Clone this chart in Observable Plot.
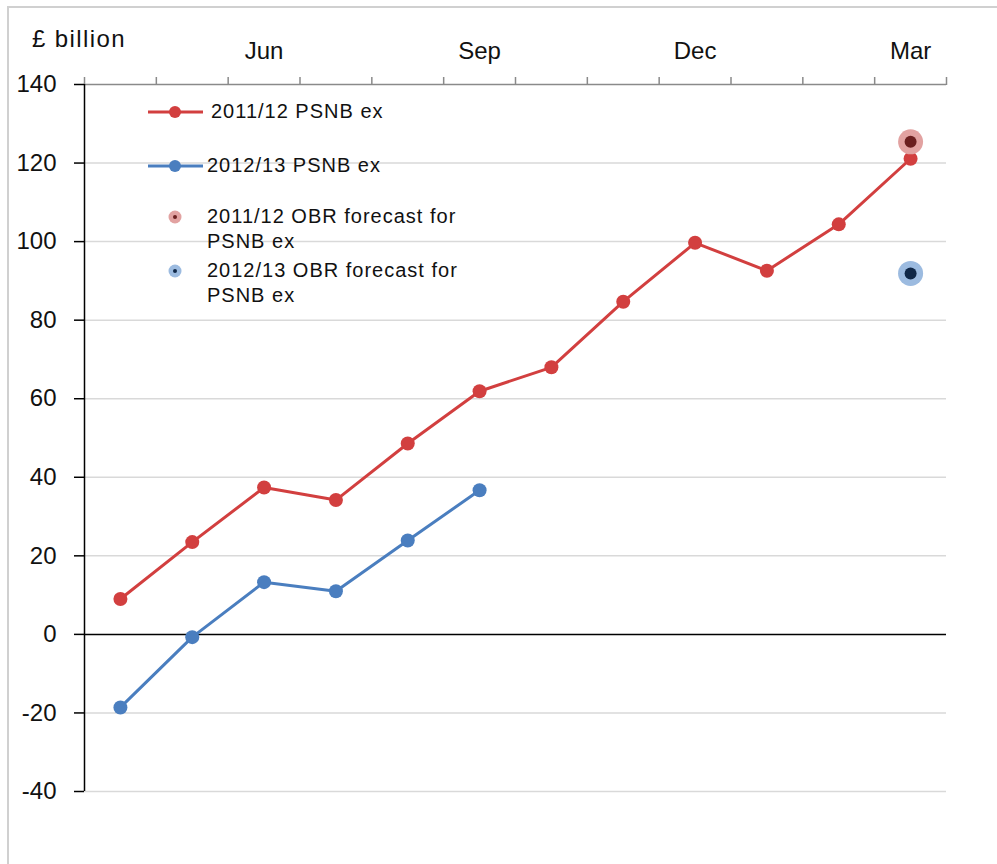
<!DOCTYPE html>
<html>
<head>
<meta charset="utf-8">
<script src="https://cdn.jsdelivr.net/npm/d3@7"></script>
<script src="https://cdn.jsdelivr.net/npm/@observablehq/plot@0.6"></script>
<style>
  html, body { margin: 0; padding: 0; background: #fff; }
  body { width: 997px; height: 864px; overflow: hidden; font-family: "Liberation Sans", Arial, sans-serif; }
  #wrap { position: relative; width: 997px; height: 864px; }
  #frameLeft { position: absolute; left: 7px; top: 7px; width: 2px; height: 857px; background: #d0d0d0; }
  #frameTop { position: absolute; left: 7px; top: 6px; width: 990px; height: 2px; background: #d0d0d0; }
  #unit { position: absolute; left: 32px; top: 25px; font-size: 24px; letter-spacing: 1.4px; color: #111; }
  #legend { position: absolute; left: 146px; top: 99px; font-size: 20px; letter-spacing: 1px; color: #111; }
  .row { position: absolute; left: 0; white-space: nowrap; line-height: 25px; }
  .row svg { position: absolute; left: 0; }
  .row span { position: absolute; white-space: nowrap; }
  svg.plot { position: absolute; left: 0; top: 0; }
</style>
</head>
<body>
<div id="wrap">
  <div id="frameLeft"></div>
  <div id="frameTop"></div>
  <div id="unit">£ billion</div>
  <div id="legend"></div>
</div>
<script>
// ---- Data ----
const months = ["Apr","May","Jun","Jul","Aug","Sep","Oct","Nov","Dec","Jan","Feb","Mar"];
const labelledMonths = ["Jun","Sep","Dec","Mar"];
const psnb1112 = [9, 23.5, 37.4, 34.2, 48.6, 61.9, 68, 84.7, 99.7, 92.6, 104.4, 121.1];
const psnb1213 = [-18.6, -0.7, 13.3, 11, 23.9, 36.7];
const forecastMonth = "Mar";
const forecast1112 = 125.4;
const forecast1213 = 91.9;
const yTicks = [-40, -20, 0, 20, 40, 60, 80, 100, 120, 140];
const seriesNames = ["2011/12 PSNB ex", "2012/13 PSNB ex"];
const forecastNames = ["2011/12 OBR forecast for\nPSNB ex", "2012/13 OBR forecast for\nPSNB ex"];

const red = "#d23f3f", blue = "#4a7ebf";
const redHalo = "#e2a2a1", redCore = "#6b1f1f";
const blueHalo = "#9cbbe0", blueCore = "#0f2747";

// month index -> band centre on a linear [0,12] scale
const mx = m => months.indexOf(m) + 0.5;
const s1112 = psnb1112.map((v, i) => ({x: i + 0.5, y: v}));
const s1213 = psnb1213.map((v, i) => ({x: i + 0.5, y: v}));
const fc = [
  {x: mx(forecastMonth), y: forecast1112, halo: redHalo, core: redCore},
  {x: mx(forecastMonth), y: forecast1213, halo: blueHalo, core: blueCore}
];

const font = "Liberation Sans, Arial, sans-serif";

const chart = Plot.plot({
  width: 997,
  height: 864,
  marginLeft: 84,
  marginRight: 51,
  marginTop: 84,
  marginBottom: 73,
  style: {fontFamily: font, background: "transparent", overflow: "visible"},
  x: {type: "linear", domain: [0, 12], axis: null},
  y: {domain: [-40, 140], axis: null},
  marks: [
    Plot.gridY(yTicks.filter(t => t !== 0 && t !== 140), {stroke: "#d9d9d9", strokeOpacity: 1, strokeWidth: 1.5}),
    Plot.ruleY([0], {stroke: "#000", strokeWidth: 1.5}),
    Plot.ruleY([140], {stroke: "#8a8a8a", strokeWidth: 1.5}),
    Plot.axisX({anchor: "top", label: null, ticks: d3.range(0, 13), tickSize: 8, tickFormat: () => "", stroke: "#8a8a8a", strokeWidth: 1.5}),
    Plot.axisX({anchor: "top", label: null, ticks: labelledMonths.map(mx), tickSize: 0, tickPadding: 26,
      tickFormat: v => months[Math.round(v - 0.5)], fontSize: 24, fill: "#111",
      style: {letterSpacing: "1.4px"}}),
    Plot.ruleX([0], {y1: -40, y2: 140, stroke: "#000", strokeWidth: 1.5}),
    Plot.axisY({label: null, ticks: yTicks, tickSize: 10, tickPadding: 18, stroke: "#000", strokeWidth: 1.5,
      fontSize: 24, fill: "#111", tickFormat: d => String(d), style: {letterSpacing: "0.8px"}}),
    Plot.line(s1112, {x: "x", y: "y", stroke: red, strokeWidth: 3}),
    Plot.dot(s1112, {x: "x", y: "y", r: 7, fill: red}),
    Plot.line(s1213, {x: "x", y: "y", stroke: blue, strokeWidth: 3}),
    Plot.dot(s1213, {x: "x", y: "y", r: 7, fill: blue}),
    Plot.dot(fc, {x: "x", y: "y", r: 12.5, fill: "halo"}),
    Plot.dot(fc, {x: "x", y: "y", r: 6, fill: "core"})
  ]
});
chart.classList.add("plot");
document.getElementById("wrap").prepend(chart);

// ---- Legend (HTML overlay) ----
const legend = document.getElementById("legend");
const rows = [
  {top: 0, kind: "line", color: red, text: seriesNames[0], tx: 65},
  {top: 54, kind: "line", color: blue, text: seriesNames[1], tx: 61},
  {top: 105, kind: "fc", halo: redHalo, core: redCore, text: forecastNames[0], tx: 61},
  {top: 159, kind: "fc", halo: blueHalo, core: blueCore, text: forecastNames[1], tx: 61}
];
for (const r of rows) {
  const div = document.createElement("div");
  div.className = "row";
  div.style.top = r.top + "px";
  const ns = "http://www.w3.org/2000/svg";
  const svg = document.createElementNS(ns, "svg");
  svg.setAttribute("width", 60); svg.setAttribute("height", 26);
  if (r.kind === "line") {
    svg.innerHTML = `<line x1="2" x2="57" y1="13" y2="13" stroke="${r.color}" stroke-width="3"/><circle cx="29" cy="13" r="6" fill="${r.color}"/>`;
  } else {
    svg.innerHTML = `<circle cx="29" cy="13" r="6.5" fill="${r.halo}"/><circle cx="29" cy="13" r="2" fill="${r.core}"/>`;
  }
  div.appendChild(svg);
  const lines = r.text.split("\n");
  lines.forEach((t, i) => {
    const sp = document.createElement("span");
    sp.textContent = t;
    sp.style.left = r.tx + "px";
    sp.style.top = (i * 25) + "px";
    div.appendChild(sp);
  });
  legend.appendChild(div);
}
</script>
</body>
</html>
